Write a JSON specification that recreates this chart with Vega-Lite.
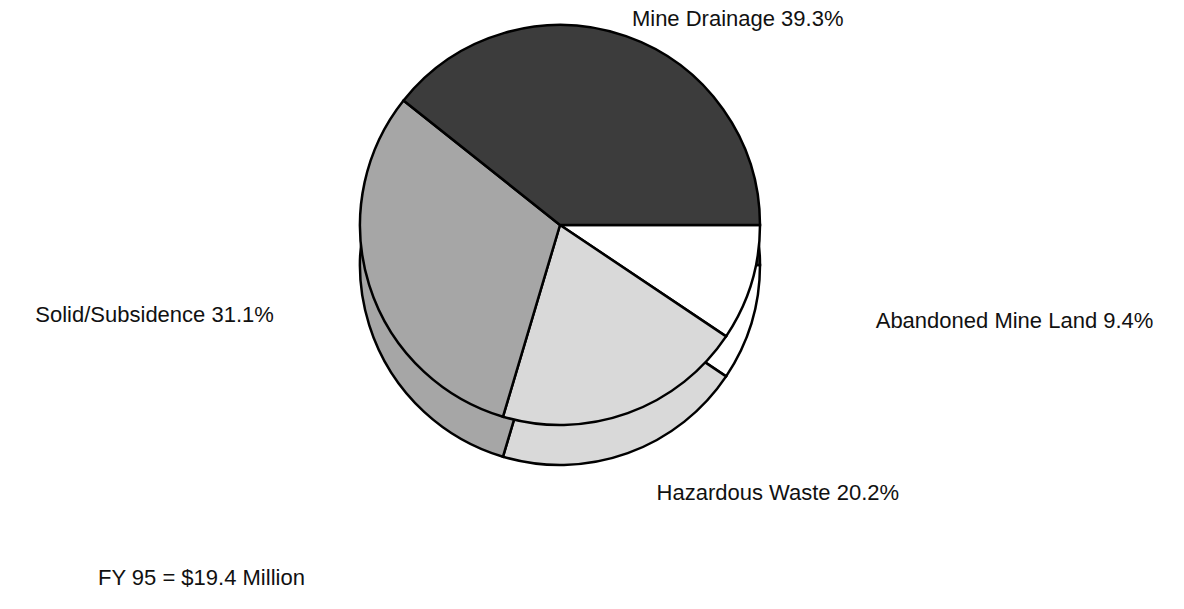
{
  "$schema": "https://vega.github.io/schema/vega-lite/v6.json",
  "width": 1120,
  "height": 450,
  "autosize": "none",
  "padding": {"left": 0, "top": 0, "right": 64, "bottom": 159},
  "background": "white",
  "title": {
    "text": "FY 95 = $19.4 Million",
    "orient": "bottom",
    "anchor": "start",
    "offset": 22,
    "dx": 98,
    "fontSize": 22,
    "fontWeight": "normal",
    "font": "Liberation Sans",
    "color": "#111"
  },
  "data": {
    "values": [
      {"category": "Abandoned Mine Land", "pct": 9.4, "order": 1, "label": "Abandoned Mine Land 9.4%"},
      {"category": "Hazardous Waste", "pct": 20.2, "order": 2, "label": "Hazardous Waste 20.2%"},
      {"category": "Solid/Subsidence", "pct": 31.1, "order": 3, "label": "Solid/Subsidence 31.1%"},
      {"category": "Mine Drainage", "pct": 39.3, "order": 4, "label": "Mine Drainage 39.3%"}
    ]
  },
  "encoding": {
    "theta": {"field": "pct", "type": "quantitative", "stack": true, "scale": {"range": [1.5708, 7.854]}},
    "order": {"field": "order", "type": "quantitative"}
  },
  "layer": [
    {
      "mark": {"type": "arc", "outerRadius": 200, "yOffset": 40, "stroke": "black", "strokeWidth": 2.5},
      "encoding": {
        "color": {"field": "category", "type": "nominal", "legend": null,
          "scale": {"domain": ["Abandoned Mine Land", "Hazardous Waste", "Solid/Subsidence", "Mine Drainage"],
                    "range": ["#ffffff", "#d9d9d9", "#a6a6a6", "#3c3c3c"]}}
      }
    },
    {
      "mark": {"type": "arc", "outerRadius": 200, "stroke": "black", "strokeWidth": 2.5},
      "encoding": {
        "color": {"field": "category", "type": "nominal", "legend": null}
      }
    },
    {
      "mark": {"type": "text", "radius": 218, "align": "left", "baseline": "middle", "fontSize": 22, "font": "Liberation Sans", "color": "#111"},
      "encoding": {
        "text": {"condition": {"test": "datum.category === 'Mine Drainage'", "field": "label"}, "value": ""}
      }
    },
    {
      "mark": {"type": "text", "radius": 330, "align": "left", "baseline": "middle", "fontSize": 22, "font": "Liberation Sans", "color": "#111"},
      "encoding": {
        "text": {"condition": {"test": "datum.category === 'Abandoned Mine Land'", "field": "label"}, "value": ""}
      }
    },
    {
      "mark": {"type": "text", "radius": 300, "align": "right", "baseline": "middle", "fontSize": 22, "font": "Liberation Sans", "color": "#111"},
      "encoding": {
        "text": {"condition": {"test": "datum.category === 'Solid/Subsidence'", "field": "label"}, "value": ""}
      }
    },
    {
      "mark": {"type": "text", "radius": 285, "align": "left", "baseline": "middle", "fontSize": 22, "font": "Liberation Sans", "color": "#111"},
      "encoding": {
        "text": {"condition": {"test": "datum.category === 'Hazardous Waste'", "field": "label"}, "value": ""}
      }
    }
  ],
  "config": {"view": {"stroke": null}}
}
